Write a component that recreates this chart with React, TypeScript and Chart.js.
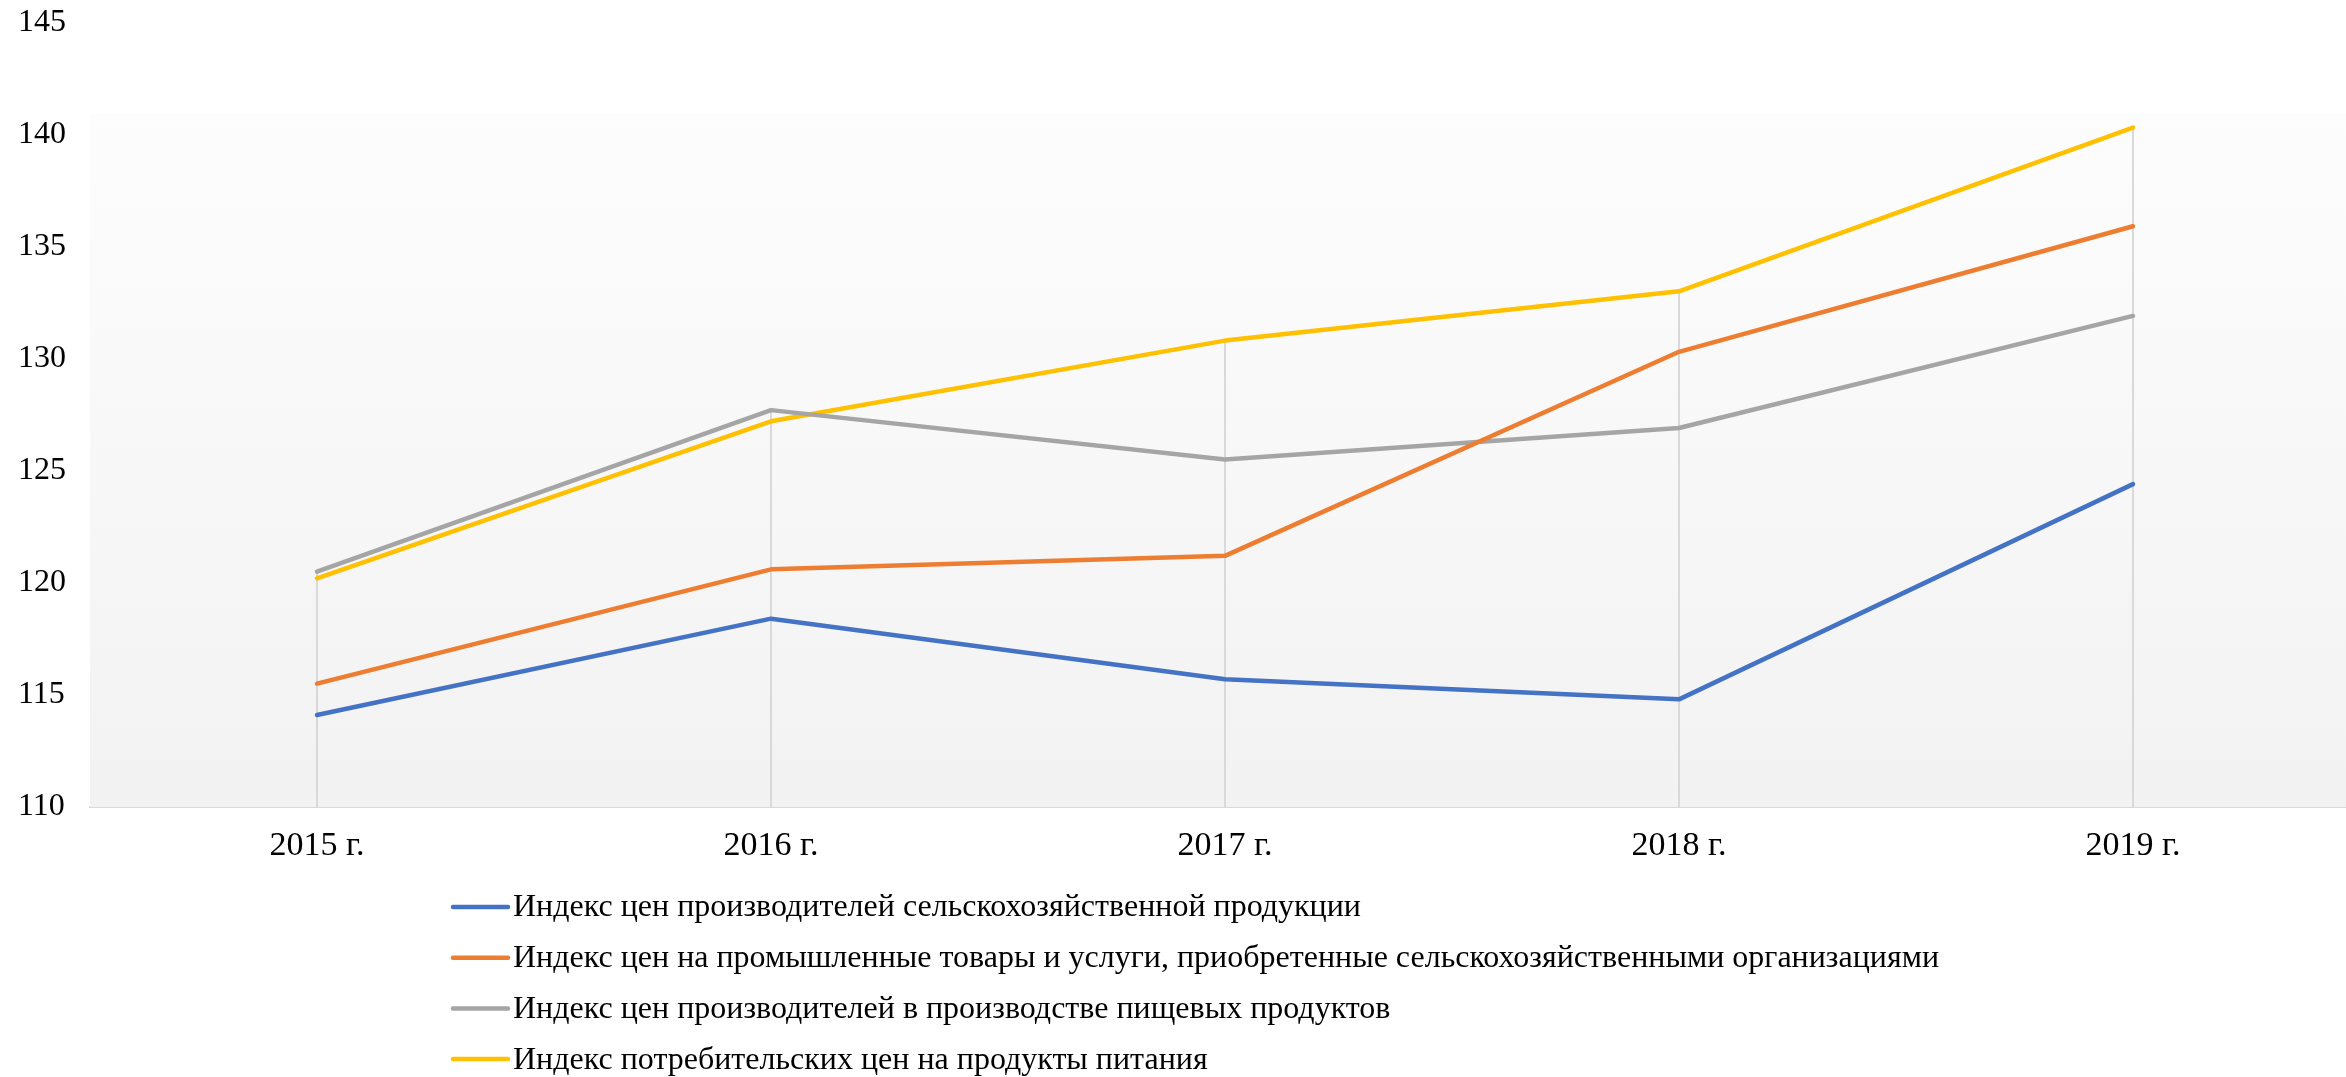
import React, { useEffect, useRef } from "react";
import { Chart, registerables } from "chart.js";

Chart.register(...registerables);

const categories = ["2015 г.", "2016 г.", "2017 г.", "2018 г.", "2019 г."];
const seriesNames = [
  "Индекс цен производителей сельскохозяйственной продукции",
  "Индекс цен на промышленные товары и услуги, приобретенные сельскохозяйственными организациями",
  "Индекс цен производителей в производстве пищевых продуктов",
  "Индекс потребительских цен на продукты питания",
];
const agriProducers = [114.1, 118.4, 115.7, 114.8, 124.4];
const industrialGoods = [115.5, 120.6, 121.2, 130.3, 135.9];
const foodProducers = [120.5, 127.7, 125.5, 126.9, 131.9];
const consumerFood = [120.2, 127.2, 130.8, 133.0, 140.3];
const seriesValues = [agriProducers, industrialGoods, foodProducers, consumerFood];
const seriesColors = ["#4472C4", "#ED7D31", "#A5A5A5", "#FFC000"];
const yMin = 110;
const yMax = 145;
const yStep = 5;

const FONT = "'Liberation Serif', 'Times New Roman', serif";
const CANVAS_W = 2360;
const CANVAS_H = 1077;

const bgPlugin = {
  id: "bgPlugin",
  beforeDatasetsDraw(chart: any) {
    const { ctx, chartArea, scales } = chart;
    const { left, right, top, bottom } = chartArea;
    const gTop = top + (bottom - top) * 0.116;
    ctx.save();
    const g = ctx.createLinearGradient(0, gTop, 0, bottom);
    g.addColorStop(0, "#fdfdfd");
    g.addColorStop(1, "#f2f2f2");
    ctx.fillStyle = g;
    ctx.fillRect(left, gTop, right - left, bottom - gTop);
    // drop lines from the highest series value to the axis
    ctx.strokeStyle = "#d9d9d9";
    ctx.lineWidth = 2;
    categories.forEach((_, i) => {
      const maxV = Math.max(...seriesValues.map((s) => s[i]));
      const x = Math.round(scales.x.getPixelForValue(i));
      const y = scales.y.getPixelForValue(maxV);
      ctx.beginPath();
      ctx.moveTo(x, y);
      ctx.lineTo(x, bottom);
      ctx.stroke();
    });
    ctx.restore();
  },
  afterDraw(chart: any) {
    const { ctx } = chart;
    ctx.save();
    ctx.font = `32px ${FONT}`;
    ctx.textBaseline = "middle";
    ctx.textAlign = "left";
    seriesNames.forEach((name, i) => {
      const y = 907 + i * 50.7;
      ctx.strokeStyle = seriesColors[i];
      ctx.lineWidth = 4.5;
      ctx.lineCap = "round";
      ctx.beginPath();
      ctx.moveTo(453, y);
      ctx.lineTo(508, y);
      ctx.stroke();
      ctx.fillStyle = "#000000";
      ctx.fillText(name, 513, y + 1);
    });
    ctx.restore();
  },
};

export default function App() {
  const canvasRef = useRef<HTMLCanvasElement | null>(null);

  useEffect(() => {
    document.body.style.margin = "0";
    const canvas = canvasRef.current;
    if (!canvas) return;
    const chart = new Chart(canvas, {
      type: "line",
      data: {
        labels: categories,
        datasets: seriesValues.map((vals, i) => ({
          label: seriesNames[i],
          data: vals,
          borderColor: seriesColors[i],
          backgroundColor: seriesColors[i],
          borderWidth: 4.5,
          pointRadius: 0,
          tension: 0,
          borderCapStyle: "round",
          borderJoinStyle: "round",
          fill: false,
        })),
      },
      options: {
        responsive: false,
        animation: false,
        devicePixelRatio: 1,
        layout: { padding: { left: 18, right: 0, top: 22, bottom: 200 } },
        plugins: {
          legend: { display: false },
          tooltip: { enabled: false },
        },
        scales: {
          x: {
            type: "category",
            offset: true,
            grid: { display: false },
            border: { display: true, color: "#d9d9d9", width: 2 },
            ticks: {
              color: "#000000",
              font: { family: FONT, size: 34 },
              padding: 11,
              maxRotation: 0,
            },
            afterFit(scale: any) {
              scale.height = CANVAS_H - 807 - 200;
            },
          },
          y: {
            min: yMin,
            max: yMax,
            grid: { display: false },
            border: { display: false },
            ticks: {
              stepSize: yStep,
              color: "#000000",
              font: { family: FONT, size: 32 },
              crossAlign: "far",
            },
            afterFit(scale: any) {
              scale.width = 72;
            },
          },
        },
      },
      plugins: [bgPlugin],
    });
    return () => chart.destroy();
  }, []);

  return (
    <div style={{ width: 2346, height: 1077, overflow: "hidden", background: "#ffffff" }}>
      <canvas ref={canvasRef} width={CANVAS_W} height={CANVAS_H} style={{ display: "block" }} />
    </div>
  );
}
